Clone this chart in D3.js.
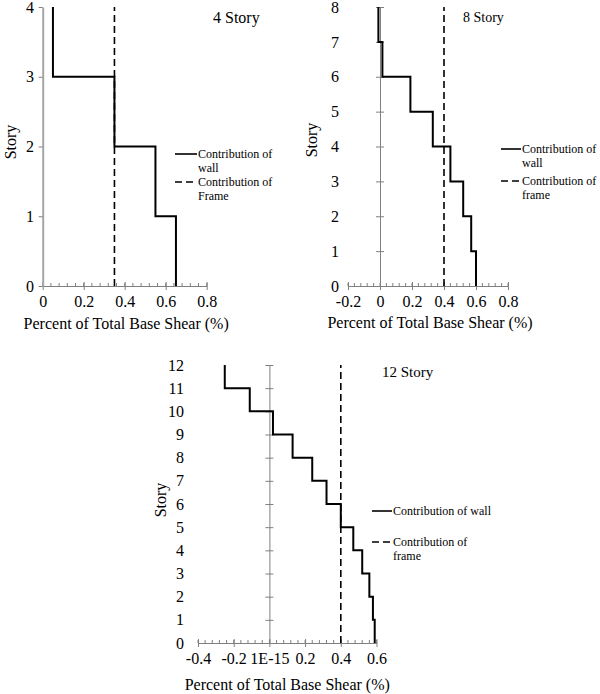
<!DOCTYPE html>
<html>
<head>
<meta charset="utf-8">
<script src="https://cdn.jsdelivr.net/npm/d3@7"></script>
<style>
  html, body { margin: 0; padding: 0; background: #fff; }
  svg { display: block; }
  text { font-family: "Liberation Serif", "Times New Roman", serif; fill: #000; }
</style>
</head>
<body>
<svg id="chart" width="600" height="694"></svg>
<script>
// ---------- DATA ----------
// Wall contribution per story segment, from top story down to story 1
const wall4 = [0.05, 0.35, 0.55, 0.65];
const frame4 = 0.35;
const ticks4 = [0, 0.2, 0.4, 0.6, 0.8];
const tickLabels4 = ["0", "0.2", "0.4", "0.6", "0.8"];

const wall8 = [-0.01, 0.015, 0.19, 0.33, 0.44, 0.52, 0.57, 0.60];
const frame8 = 0.4;
const ticks8 = [-0.2, 0, 0.2, 0.4, 0.6, 0.8];
const tickLabels8 = ["-0.2", "0", "0.2", "0.4", "0.6", "0.8"];

const wall12 = [-0.25, -0.11, 0.02, 0.13, 0.24, 0.32, 0.40, 0.47, 0.52, 0.56, 0.58, 0.59];
const frame12 = 0.4;
const ticks12 = [-0.4, -0.2, 0, 0.2, 0.4, 0.6];
const tickLabels12 = ["-0.4", "-0.2", "1E-15", "0.2", "0.4", "0.6"];

const legendWall = ["Contribution of", "wall"];
const legendFrame4 = ["Contribution of", "Frame"];
const legendFrame = ["Contribution of", "frame"];
const xTitle = "Percent of Total Base Shear (%)";
const yTitle = "Story";

// ---------- DRAW ----------
const svg = d3.select("#chart");

function panel(cfg) {
  const n = cfg.wall.length;
  const x = d3.scaleLinear().domain(cfg.xDomain).range(cfg.xRange);
  const y = d3.scaleLinear().domain([0, n]).range(cfg.yRange);
  const g = svg.append("g");
  const axisColor = cfg.axisColor;

  // X axis (major ticks + labels)
  const xa = g.append("g")
    .attr("transform", `translate(0,${y(0)})`)
    .call(d3.axisBottom(x).tickValues(cfg.ticks)
      .tickFormat((d, i) => cfg.tickLabels[i])
      .tickSizeInner(4).tickSizeOuter(0).tickPadding(6));
  xa.attr("font-family", null);
  xa.select(".domain").attr("stroke", axisColor).attr("stroke-width", 1);
  xa.selectAll(".tick line").attr("stroke", axisColor).attr("y1", -4).attr("y2", 4);
  xa.selectAll(".tick text").attr("font-size", 16);
  // minor ticks
  const minor = d3.range(Math.round(cfg.xDomain[0] / 0.04), Math.round(cfg.xDomain[1] / 0.04) + 1)
    .map(k => k * 0.04);
  xa.selectAll(".minor").data(minor).enter().append("line")
    .attr("x1", d => x(d)).attr("x2", d => x(d))
    .attr("y1", 0).attr("y2", -3)
    .attr("stroke", axisColor).attr("stroke-width", 1);

  // Y axis line + ticks at x = 0
  const ya = g.append("g")
    .attr("transform", `translate(${x(0)},0)`)
    .call(d3.axisLeft(y).tickValues(d3.range(0, n + 1)).tickFormat("")
      .tickSizeInner(4).tickSizeOuter(0));
  ya.select(".domain").attr("stroke", cfg.yAxisColor).attr("stroke-width", cfg.yAxisWidth);
  ya.selectAll(".tick line").attr("stroke", axisColor)
    .attr("x2", -4).attr("x1", cfg.crossTicks ? 4 : 0);

  // Y labels
  const yl = g.append("g")
    .attr("transform", `translate(${cfg.yLabelRight},0)`)
    .call(d3.axisLeft(y).tickValues(d3.range(0, n + 1)).tickFormat(d3.format("d"))
      .tickSize(0).tickPadding(0));
  yl.attr("font-family", null);
  yl.select(".domain").remove();
  yl.selectAll(".tick text").attr("font-size", 16);

  // Frame (dashed)
  g.append("line")
    .attr("x1", x(cfg.frame)).attr("x2", x(cfg.frame))
    .attr("y1", y(0)).attr("y2", y(n))
    .attr("stroke", "#000").attr("stroke-width", 1.6)
    .attr("stroke-dasharray", "7,4");

  // Wall (step line)
  const pts = [];
  cfg.wall.forEach((v, i) => {
    pts.push([v, n - i]);
    pts.push([v, n - i - 1]);
  });
  g.append("path")
    .attr("d", d3.line().x(d => x(d[0])).y(d => y(d[1]))(pts))
    .attr("fill", "none").attr("stroke", "#000").attr("stroke-width", 2);

  // Title
  g.append("text").attr("x", cfg.title[1]).attr("y", cfg.title[2])
    .attr("font-size", cfg.title[3]).text(cfg.title[0]);

  // Axis titles
  g.append("text")
    .attr("x", (cfg.xRange[0] + cfg.xRange[1]) / 2 + cfg.xTitleDx)
    .attr("y", cfg.xTitleY)
    .attr("text-anchor", "middle").attr("font-size", 16).text(xTitle);
  g.append("text")
    .attr("transform", `translate(${cfg.yTitleX},${cfg.yTitleY}) rotate(-90)`)
    .attr("text-anchor", "middle").attr("dy", "0.35em")
    .attr("font-size", 16).text(yTitle);

  // Legend
  const L = cfg.legend;
  const lg = g.append("g");
  lg.append("line").attr("x1", L.x0).attr("x2", L.x1).attr("y1", L.y1).attr("y2", L.y1)
    .attr("stroke", "#000").attr("stroke-width", 1.6);
  lg.append("line").attr("x1", L.x0).attr("x2", L.x1).attr("y1", L.y2).attr("y2", L.y2)
    .attr("stroke", "#000").attr("stroke-width", 1.6).attr("stroke-dasharray", "7,4");
  L.wallLines.forEach((t, i) => {
    lg.append("text").attr("x", L.x1 + 1).attr("y", L.y1 + i * 13.5)
      .attr("dy", "0.35em").attr("font-size", 12).text(t);
  });
  L.frameLines.forEach((t, i) => {
    lg.append("text").attr("x", L.x1 + 1).attr("y", L.y2 + i * 14)
      .attr("dy", "0.35em").attr("font-size", 12).text(t);
  });
}

panel({
  wall: wall4, frame: frame4, ticks: ticks4, tickLabels: tickLabels4,
  xDomain: [0, 0.8], xRange: [42.7, 206.7], yRange: [286, 7],
  axisColor: "#808080", yAxisColor: "#a6a6a6", yAxisWidth: 2, crossTicks: false,
  yLabelRight: 34,
  title: ["4 Story", 213, 23, 16],
  xTitleY: 329, xTitleDx: 1.5, yTitleX: 10, yTitleY: 142,
  legend: { x0: 175, x1: 197, y1: 154, y2: 182, wallLines: legendWall, frameLines: legendFrame4 }
});

panel({
  wall: wall8, frame: frame8, ticks: ticks8, tickLabels: tickLabels8,
  xDomain: [-0.2, 0.8], xRange: [348, 508], yRange: [286, 7],
  axisColor: "#808080", yAxisColor: "#808080", yAxisWidth: 1, crossTicks: true,
  yLabelRight: 339,
  title: ["8 Story", 463, 22, 14],
  xTitleY: 328, xTitleDx: 2, yTitleX: 311, yTitleY: 140,
  legend: { x0: 501, x1: 521, y1: 149, y2: 181, wallLines: legendWall, frameLines: legendFrame }
});

panel({
  wall: wall12, frame: frame12, ticks: ticks12, tickLabels: tickLabels12,
  xDomain: [-0.4, 0.6], xRange: [198, 376.5], yRange: [643, 365],
  axisColor: "#808080", yAxisColor: "#808080", yAxisWidth: 1, crossTicks: true,
  yLabelRight: 184,
  title: ["12 Story", 382, 377, 15],
  xTitleY: 690, xTitleDx: 0, yTitleX: 160, yTitleY: 500,
  legend: { x0: 372, x1: 392, y1: 511, y2: 542, wallLines: ["Contribution of wall"], frameLines: legendFrame }
});
</script>
</body>
</html>
